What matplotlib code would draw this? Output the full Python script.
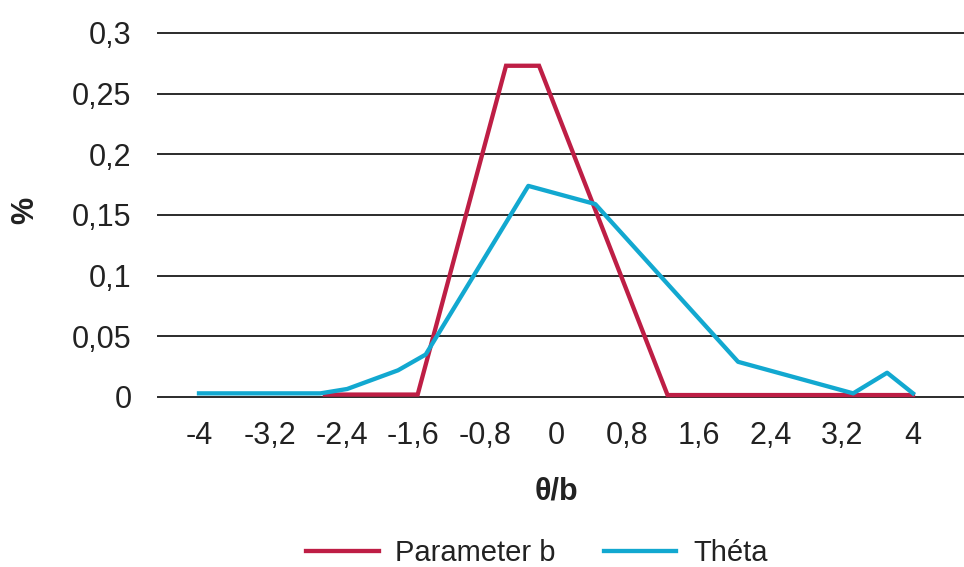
import matplotlib
matplotlib.use("Agg")
import matplotlib.pyplot as plt
from matplotlib.ticker import FuncFormatter

plt.rcParams['font.family'] = ['Liberation Sans', 'DejaVu Sans']

# Distribution of the b parameter and of theta
param_b_x = [-2.59, -1.55, -0.56, -0.19, 1.25, 4.0]
param_b_y = [0.002, 0.002, 0.273, 0.273, 0.0016, 0.0016]

theta_x = [-4.0, -2.64, -2.34, -1.77, -1.46, -0.31, 0.44, 2.04, 3.33, 3.71, 4.0]
theta_y = [0.003, 0.003, 0.0066, 0.022, 0.035, 0.174, 0.159, 0.029, 0.003, 0.02, 0.003]

x_ticks = [-4, -3.2, -2.4, -1.6, -0.8, 0, 0.8, 1.6, 2.4, 3.2, 4]
y_ticks = [0, 0.05, 0.1, 0.15, 0.2, 0.25, 0.3]

RED = '#BE1E45'
BLUE = '#12A8D0'
FS = 22

fig = plt.figure(figsize=(9.64, 5.67), dpi=100)
ax = fig.add_axes([158 / 964, 1 - 397 / 567, 1 - 158 / 964, (397 - 33) / 567])

for yv in y_ticks:
    ax.axhline(yv, color='#2b2b2b', lw=1.4, zorder=1, clip_on=False)

ax.plot(param_b_x, param_b_y, color=RED, lw=3.1, label='Parameter b',
        solid_joinstyle='miter', zorder=3, clip_on=False)
ax.plot(theta_x, theta_y, color=BLUE, lw=3.1, label='Théta',
        solid_joinstyle='round', zorder=4, clip_on=False)

ax.set_xlim(-4 - 41 / 89.25, 4 + 51 / 89.25)
ax.set_ylim(0, 0.3)

def comma(v, pos=None):
    s = f"{v:.2f}".rstrip('0').rstrip('.')
    if s == '-0':
        s = '0'
    return s.replace('.', ',')

ax.set_xticks(x_ticks)
ax.set_yticks(y_ticks)
ax.xaxis.set_major_formatter(FuncFormatter(comma))
ax.yaxis.set_major_formatter(FuncFormatter(comma))
ax.tick_params(axis='both', length=0, labelsize=FS, colors='#222222')
ax.tick_params(axis='y', pad=19)
ax.tick_params(axis='x', pad=17)

for sp in ax.spines.values():
    sp.set_visible(False)
ax.patch.set_alpha(0)

fig.text(25 / 964, 1 - 210 / 567, '%', rotation=90, fontsize=FS, fontweight='bold',
         ha='center', va='center', color='#222222')
fig.text(556 / 964, 1 - 492 / 567, 'θ/b', fontsize=FS, fontweight='bold',
         ha='center', va='center', color='#222222')

leg = fig.legend(loc='center', bbox_to_anchor=(537 / 964, 1 - 553 / 567), ncol=2,
                 frameon=False, fontsize=21, handlelength=2.47, handletextpad=0.58,
                 columnspacing=1.65)
for t in leg.get_texts():
    t.set_color('#222222')

fig.savefig('out.png', dpi=100)
